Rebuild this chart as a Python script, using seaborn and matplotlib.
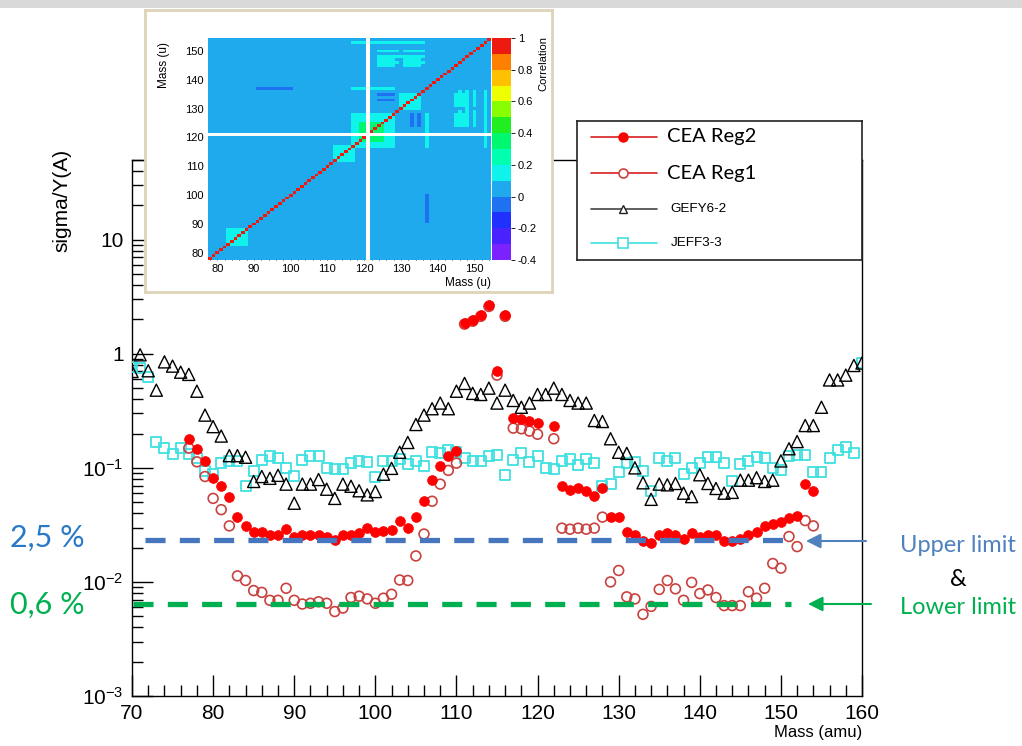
import numpy as np
import pandas as pd
import matplotlib
matplotlib.use("Agg")
import matplotlib.pyplot as plt
import seaborn as sns
from matplotlib.colors import ListedColormap
from matplotlib.patches import Rectangle
from matplotlib.ticker import MultipleLocator, LogLocator, FuncFormatter, NullFormatter, FixedLocator

# ---------------- data ----------------
mass_all = list(range(70, 161))
gefy = [0.70, 0.98, 0.71, 0.48, 0.85, 0.78, 0.69, 0.66, 0.47, 0.29,
        0.23, 0.19, 0.128, 0.128, 0.124, 0.076, 0.084, 0.081, 0.086, 0.072,
        0.049, 0.072, 0.072, 0.079, 0.065, 0.054, 0.072, 0.069, 0.063, 0.058,
        0.062, 0.088, 0.099, 0.137, 0.167, 0.24, 0.29, 0.33, 0.37, 0.33,
        0.47, 0.55, 0.45, 0.44, 0.50, 0.37, 0.48, 0.39, 0.34, 0.37,
        0.44, 0.44, 0.50, 0.44, 0.39, 0.37, 0.37, 0.26, 0.255, 0.18,
        0.137, 0.134, 0.10, 0.074, 0.053, 0.072, 0.071, 0.073, 0.060, 0.056,
        0.087, 0.073, 0.066, 0.060, 0.061, 0.078, 0.078, 0.082, 0.076, 0.078,
        0.115, 0.147, 0.17, 0.235, 0.235, 0.34, 0.59, 0.59, 0.65, 0.79, 0.83]
jeff = [0.76, 0.75, 0.63, 0.17, 0.149, 0.133, 0.149, 0.133, 0.122, 0.093,
        0.089, 0.11, 0.116, 0.116, 0.070, 0.094, 0.117, 0.126, 0.122, 0.099,
        0.085, 0.117, 0.128, 0.126, 0.100, 0.098, 0.098, 0.11, 0.115, 0.113,
        0.083, 0.116, 0.114, 0.119, 0.108, 0.115, 0.103, 0.137, 0.134, 0.142,
        0.137, 0.122, 0.116, 0.114, 0.126, 0.13, 0.087, 0.117, 0.136, 0.113,
        0.126, 0.100, 0.098, 0.115, 0.119, 0.106, 0.12, 0.111, 0.070, 0.072,
        0.092, 0.111, 0.112, 0.094, 0.063, 0.123, 0.115, 0.123, 0.089, 0.100,
        0.111, 0.124, 0.124, 0.111, 0.077, 0.108, 0.114, 0.124, 0.122, 0.100,
        0.096, 0.127, 0.13, 0.13, 0.092, 0.092, 0.122, 0.144, 0.152, 0.134, 0.83]

mass_cea = list(range(77, 155))
cea_reg2 = [0.18, 0.146, 0.115, 0.082, 0.070, 0.055, 0.037, 0.031, 0.0276, 0.0276,
            0.026, 0.026, 0.029, 0.0247, 0.0258, 0.0256, 0.0258, 0.025, 0.0233, 0.0256,
            0.026, 0.027, 0.0296, 0.0276, 0.028, 0.0285, 0.034, 0.0296, 0.037, 0.051,
            0.078, 0.104, 0.128, 0.141, 1.88, 1.99, 2.2, 2.69, 0.70, 2.2,
            0.276, 0.27, 0.258, 0.246, np.nan, 0.233, 0.0695, 0.064, 0.066, 0.063,
            0.057, 0.066, 0.037, 0.037, 0.0276, 0.026, 0.023, 0.022, 0.0256, 0.027,
            0.026, 0.0237, 0.027, 0.025, 0.026, 0.0258, 0.023, 0.023, 0.024, 0.026,
            0.0276, 0.031, 0.032, 0.0334, 0.036, 0.038, 0.072, 0.063]
cea_reg1 = [0.149, 0.113, 0.084, 0.054, 0.043, 0.031, 0.0113, 0.0103, 0.0084, 0.0081,
            0.0069, 0.0069, 0.0088, 0.0069, 0.0064, 0.0065, 0.0067, 0.0065, 0.0055, 0.0059,
            0.0073, 0.0075, 0.0071, 0.0065, 0.0072, 0.0078, 0.0104, 0.0103, 0.0169, 0.0263,
            0.051, 0.072, 0.095, 0.11, 1.82, 1.93, 2.13, 2.6, 0.65, 2.13,
            0.223, 0.22, 0.21, 0.197, np.nan, 0.18, 0.0296, 0.029, 0.0296, 0.029,
            0.0296, 0.037, 0.010, 0.0126, 0.0074, 0.0071, 0.0052, 0.0061, 0.0086, 0.0103,
            0.0087, 0.0069, 0.0099, 0.0079, 0.0085, 0.0073, 0.0062, 0.0062, 0.0062, 0.0082,
            0.0072, 0.0088, 0.0145, 0.0132, 0.025, 0.0204, 0.0345, 0.031]

upper_limit = 0.0235
lower_limit = 0.0064
upper_x = [71.6, 150.8]
lower_x = [70.1, 151.3]

series_labels = ["CEA Reg2", "CEA Reg1", "GEFY6-2", "JEFF3-3"]
x_ticks = list(range(70, 161, 10))

# correlation matrix (inset)
inset_mass = list(range(78, 155))
missing_mass = 121
corr_background = 0.03
corr_blocks = [  # (row_from, row_to, col_from, col_to, value), applied symmetrically
    (83, 88, 83, 88, 0.15),
    (112, 117, 112, 117, 0.15),
    (117, 128, 117, 128, 0.15),
    (119, 125, 119, 125, 0.35),
    (130, 135, 130, 135, 0.15),
    (137, 137, 91, 100, -0.05),
    (137, 137, 117, 128, 0.15),
    (145, 145, 124, 128, 0.15),
    (147, 148, 124, 128, 0.15),
    (145, 145, 131, 135, 0.15),
    (147, 147, 131, 135, 0.15),
    (153, 153, 117, 128, 0.15),
    (133, 133, 124, 128, -0.05),
    (135, 135, 124, 128, -0.05),
    (124, 129, 146, 146, 0.15),
    (131, 136, 146, 146, 0.15),
    (124, 136, 148, 148, 0.15),
    (124, 129, 150, 150, 0.15),
    (131, 136, 150, 150, 0.15),
    (124, 136, 153, 153, 0.15),
]
corr_ticks = list(range(80, 151, 10))
cbar_ticks = [-0.4, -0.2, 0.0, 0.2, 0.4, 0.6, 0.8, 1.0]
cbar_ticklabels = ["-0.4", "-0.2", "0", "0.2", "0.4", "0.6", "0.8", "1"]
palette_colors = ["#7a22ff", "#4a22ff", "#2030ff", "#1e72f2", "#20aaee",
                  "#10f2ec", "#00ffb0", "#00f870", "#20ee20", "#88ff00",
                  "#eeff00", "#ffc000", "#ff8000", "#ee1a10"]

# ---------------- style ----------------
sns.set_theme(style="white")
plt.rcParams['font.family'] = ['Liberation Sans', 'DejaVu Sans']
plt.rcParams['mathtext.fontset'] = 'custom'
plt.rcParams['mathtext.rm'] = 'Liberation Sans'
plt.rcParams['mathtext.it'] = 'Liberation Sans:italic'
plt.rcParams['mathtext.bf'] = 'Liberation Sans:bold'
plt.rcParams['text.color'] = 'black'
plt.rcParams['axes.edgecolor'] = 'black'
plt.rcParams['xtick.color'] = 'black'
plt.rcParams['ytick.color'] = 'black'

W, H = 1022, 746
fig = plt.figure(figsize=(W / 100, H / 100), dpi=100)
fig.patch.set_facecolor('white')

def box(x0, y0, x1, y1):
    return [x0 / W, 1 - y1 / H, (x1 - x0) / W, (y1 - y0) / H]

# top grey band
fig.patches.append(Rectangle((0, 1 - 8 / H), 1, 8 / H, transform=fig.transFigure,
                             facecolor='#d9d9d9', edgecolor='none', zorder=0))

# ---------------- main axes ----------------
ax = fig.add_axes(box(132, 160, 862, 696), zorder=1)
ax.set_facecolor('white')

df_ref = pd.DataFrame({"mass": mass_all, "GEFY6-2": gefy, "JEFF3-3": jeff})
df_cea = pd.DataFrame({"mass": mass_cea, "CEA Reg2": cea_reg2, "CEA Reg1": cea_reg1})

c_red = "#ff0000"
c_red_open = "#c8423f"
c_cyan = "#3fe0e0"

sns.scatterplot(data=df_ref, x="mass", y="JEFF3-3", ax=ax, marker='s', s=52,
                facecolors='none', edgecolor=c_cyan, linewidth=1.3, zorder=3)
sns.scatterplot(data=df_ref, x="mass", y="GEFY6-2", ax=ax, marker='^', s=76,
                facecolors='none', edgecolor='black', linewidth=1.0, zorder=4)
sns.scatterplot(data=df_cea, x="mass", y="CEA Reg1", ax=ax, marker='o', s=50,
                facecolors='none', edgecolor=c_red_open, linewidth=1.2, zorder=5)
sns.scatterplot(data=df_cea, x="mass", y="CEA Reg2", ax=ax, marker='o', s=50,
                color=c_red, edgecolor=c_red, linewidth=0.5, zorder=6)

ax.plot(upper_x, [upper_limit] * 2, color="#4677be", lw=3.8,
        linestyle=(0, (3.8, 2.7)), solid_capstyle='butt', zorder=7)
ax.plot(lower_x, [lower_limit] * 2, color="#00b050", lw=3.8,
        linestyle=(0, (3.8, 2.7)), solid_capstyle='butt', zorder=7)

ax.set_yscale('log')
ax.set_xlim(70, 160)
ax.set_ylim(1e-3, 50)
ax.xaxis.set_major_locator(FixedLocator(x_ticks))
ax.xaxis.set_minor_locator(MultipleLocator(2))
ax.yaxis.set_major_locator(LogLocator(base=10, subs=(1.0,), numticks=20))
ax.yaxis.set_minor_locator(LogLocator(base=10, subs=np.arange(2, 10), numticks=100))
ax.yaxis.set_minor_formatter(NullFormatter())

def yfmt(v, pos):
    e = int(np.round(np.log10(v)))
    if e == 0:
        return '1'
    if e == 1:
        return '10'
    return r'$\mathdefault{10^{%d}}$' % e

ax.yaxis.set_major_formatter(FuncFormatter(yfmt))
ax.tick_params(which='both', direction='in', top=False, right=False,
               bottom=True, left=True, width=1, color='black')
ax.tick_params(which='major', length=15, labelsize=15, pad=6)
ax.tick_params(which='minor', length=8)
ax.set_xlabel('')
ax.set_ylabel('')
for sp in ax.spines.values():
    sp.set_visible(True)
    sp.set_color('black')
    sp.set_linewidth(1.0)
ax.grid(False)

fig.text(62 / W, 1 - 149 / H, 'sigma/Y(A)', rotation=90, ha='center', va='top', fontsize=15)
fig.text(862 / W, 1 - 733 / H, 'Mass (amu)', ha='right', va='center', fontsize=12)

# ---------------- annotations (Office-like text) ----------------
office = ['Lato', 'DejaVu Sans']
fig.text(10 / W, 1 - 538 / H, '2,5 %', color='#2878c8', fontsize=22, family=office,
         ha='left', va='center')
fig.text(10 / W, 1 - 605 / H, '0,6 %', color='#00b050', fontsize=22, family=office,
         ha='left', va='center')
fig.text(958 / W, 1 - 545 / H, 'Upper limit', color='#4f81bd', fontsize=17, family=office,
         ha='center', va='center')
fig.text(958 / W, 1 - 579 / H, '&', color='black', fontsize=17, family=office,
         ha='center', va='center')
fig.text(958 / W, 1 - 608 / H, 'Lower limit', color='#00b050', fontsize=17, family=office,
         ha='center', va='center')
for (x0, x1, yy, col) in [(866, 806, 541, '#4f81bd'), (871, 808, 604, '#00b050')]:
    ax.annotate('', xy=(x1 / W, 1 - yy / H), xytext=(x0 / W, 1 - yy / H),
                xycoords='figure fraction', textcoords='figure fraction',
                annotation_clip=False,
                arrowprops=dict(arrowstyle='-|>', color=col, lw=1.5,
                                mutation_scale=22, shrinkA=0, shrinkB=0))

# ---------------- legend box ----------------
lax = fig.add_axes(box(577, 121, 862, 260), zorder=5)
lax.set_xlim(0, 285)
lax.set_ylim(139, 0)
lax.set_xticks([])
lax.set_yticks([])
lax.set_facecolor('white')
for sp in lax.spines.values():
    sp.set_color('#222222')
    sp.set_linewidth(1.2)
leg_rows = [15.7, 52.3, 88.0, 122.3]
leg_styles = [
    dict(color='#d42020', marker='o', ms=6.5, mfc=c_red, mec=c_red),
    dict(color='#d42020', marker='o', ms=6.5, mfc='white', mec=c_red_open, mew=1.2),
    dict(color='#444444', marker='^', ms=6, mfc='white', mec='#222222', mew=1.0),
    dict(color=c_cyan, marker='s', ms=7, mfc='white', mec=c_cyan, mew=1.2),
]
for yy, st, lab, i in zip(leg_rows, leg_styles, series_labels, range(4)):
    col = st.pop('color')
    lax.plot([13.7, 80.3], [yy, yy], color=col, lw=1.2, zorder=2)
    lax.plot([46.3], [yy], color=col, linestyle='none', zorder=3, **st)
    if i < 2:
        lax.text(90.3, yy, lab, fontsize=14.5, family=office, va='center', ha='left')
    else:
        lax.text(93.7, yy, lab, fontsize=9.7, va='center', ha='left')

# ---------------- inset correlation matrix ----------------
fax = fig.add_axes(box(145, 10, 552, 292), zorder=3)
fax.set_xticks([])
fax.set_yticks([])
fax.set_facecolor('white')
for sp in fax.spines.values():
    sp.set_color('#ddd4b8')
    sp.set_linewidth(2)

n = len(inset_mass)
M = np.full((n, n), corr_background)
m0 = inset_mass[0]
for (a0, a1, b0, b1, v) in corr_blocks:
    M[a0 - m0:a1 - m0 + 1, b0 - m0:b1 - m0 + 1] = v
    M[b0 - m0:b1 - m0 + 1, a0 - m0:a1 - m0 + 1] = v
np.fill_diagonal(M, 1.0)
k = missing_mass - m0
M[k, :] = np.nan
M[:, k] = np.nan
df_corr = pd.DataFrame(M, index=inset_mass, columns=inset_mass)

hax = fig.add_axes(box(208, 38, 491, 260), zorder=4)
cax = fig.add_axes(box(492, 38, 511, 260), zorder=4)
cmap = ListedColormap(palette_colors)
sns.heatmap(df_corr, ax=hax, cmap=cmap, vmin=-0.4, vmax=1.0, cbar_ax=cax,
            xticklabels=False, yticklabels=False, cbar_kws={'ticks': cbar_ticks})
hax.set_facecolor('white')
hax.set_ylim(0, n)
hax.set_xlim(0, n)
tick_pos = [t - m0 + 0.5 for t in corr_ticks]
hax.set_xticks(tick_pos)
hax.set_xticklabels([str(t) for t in corr_ticks])
hax.set_yticks(tick_pos)
hax.set_yticklabels([str(t) for t in corr_ticks], rotation=0)
hax.set_xticks([t - m0 + 0.5 for t in range(78, 155, 2)], minor=True)
hax.set_yticks([t - m0 + 0.5 for t in range(78, 155, 2)], minor=True)
hax.tick_params(which='both', direction='in', color='black', width=0.6,
                bottom=True, left=True, top=False, right=False)
hax.tick_params(which='major', length=5, labelsize=8, pad=3)
hax.tick_params(which='minor', length=2.5)
hax.set_xlabel('')
hax.set_ylabel('')
cax.set_yticks(cbar_ticks)
cax.set_yticklabels(cbar_ticklabels)
cax.tick_params(labelsize=8, length=3, width=0.6, direction='out', pad=2)
fig.text(491 / W, 1 - 283 / H, 'Mass (u)', ha='right', va='center', fontsize=8.5)
fig.text(164 / W, 1 - 42 / H, 'Mass (u)', rotation=90, ha='center', va='top', fontsize=8.5)
fig.text(543 / W, 1 - 36 / H, 'Correlation', rotation=90, ha='center', va='top', fontsize=8)

fig.savefig('out.png', dpi=100)
